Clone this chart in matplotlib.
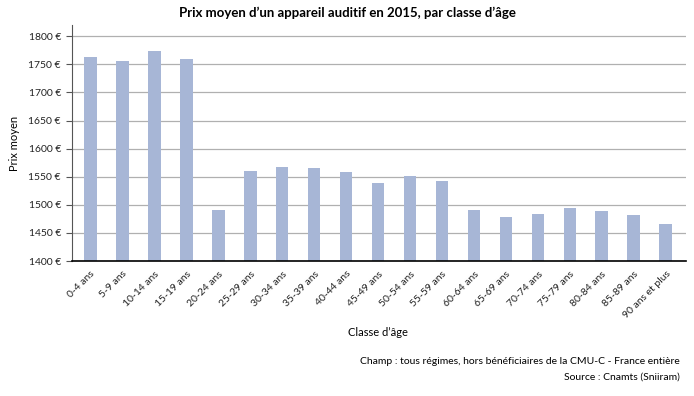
import matplotlib.pyplot as plt
import numpy as np

plt.rcParams['font.family'] = ['Lato', 'DejaVu Sans']

# Données
classes = ["0-4 ans", "5-9 ans", "10-14 ans", "15-19 ans", "20-24 ans", "25-29 ans",
           "30-34 ans", "35-39 ans", "40-44 ans", "45-49 ans", "50-54 ans", "55-59 ans",
           "60-64 ans", "65-69 ans", "70-74 ans", "75-79 ans", "80-84 ans", "85-89 ans",
           "90 ans et plus"]
prix = [1763, 1756, 1773, 1760, 1491, 1561, 1568, 1566, 1558, 1538, 1552, 1543,
        1491, 1478, 1484, 1494, 1489, 1482, 1465]
yticks = [1400, 1450, 1500, 1550, 1600, 1650, 1700, 1750, 1800]

fig = plt.figure(figsize=(6.94, 3.96), dpi=100)
ax = fig.add_axes([72 / 694, 1 - 261 / 396, 614 / 694, 236 / 396])

x = np.arange(len(classes))
ax.bar(x, prix, width=0.4, color="#a7b6d6", zorder=3)

ax.set_ylim(1400, 1820)
ax.set_xlim(-0.57, len(classes) - 0.37)
ax.set_yticks(yticks)
ax.set_yticklabels([f"{v} €" for v in yticks], fontsize=7.5, color="#222222")
ax.set_xticks(x)
ax.set_xticklabels(classes, rotation=45, ha="right", rotation_mode="anchor", fontsize=7.5, color="#222222")
ax.tick_params(axis="x", length=0, pad=6)
ax.tick_params(axis="y", length=4, width=0.8, color="#555555", pad=4)

ax.grid(axis="y", color="#b0b0b0", linewidth=0.9, zorder=0)
for s in ["top", "right"]:
    ax.spines[s].set_visible(False)
ax.spines["left"].set_color("#555555")
ax.spines["left"].set_linewidth(0.8)
ax.spines["bottom"].set_color("black")
ax.spines["bottom"].set_linewidth(1.2)
ax.spines["bottom"].set_zorder(4)

ax.set_ylabel("Prix moyen", fontsize=8, labelpad=6)
fig.text(378 / 694, 1 - 333 / 396, "Classe d\u2019âge", ha="center", va="center", fontsize=8)
fig.text(347 / 694, 1 - 13 / 396, "Prix moyen d\u2019un appareil auditif en 2015, par classe d\u2019âge",
         ha="center", va="center", fontsize=9.5, fontweight="bold")
fig.text(680 / 694, 1 - 362 / 396, "Champ : tous régimes, hors bénéficiaires de la CMU-C - France entière",
         ha="right", va="center", fontsize=7.5)
fig.text(680 / 694, 1 - 377 / 396, "Source : Cnamts (Sniiram)", ha="right", va="center", fontsize=7.5)

fig.savefig("out.png", dpi=100)
